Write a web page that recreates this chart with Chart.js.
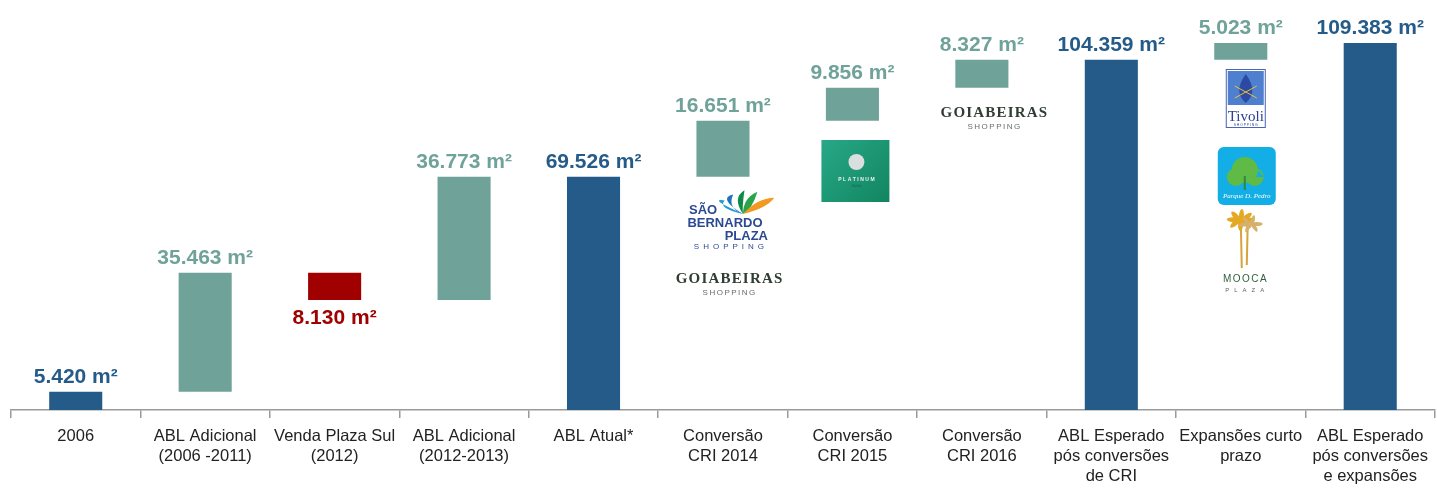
<!DOCTYPE html>
<html>
<head>
<meta charset="utf-8">
<script src="https://cdn.jsdelivr.net/npm/chart.js@4.4.0/dist/chart.umd.min.js"></script>
<style>
  body { margin: 0; background: #fff; }
  #wrap { width: 1437px; height: 489px; position: relative; }
</style>
</head>
<body>
<div id="wrap"><canvas id="chart"></canvas></div>
<script>
// categories (multi-line tick labels)
const categories = [
  ["2006"],
  ["ABL Adicional", "(2006 -2011)"],
  ["Venda Plaza Sul", "(2012)"],
  ["ABL Adicional", "(2012-2013)"],
  ["ABL Atual*"],
  ["Conversão", "CRI 2014"],
  ["Conversão", "CRI 2015"],
  ["Conversão", "CRI 2016"],
  ["ABL Esperado", "pós conversões", "de CRI"],
  ["Expansões curto", "prazo"],
  ["ABL Esperado", "pós conversões", "e expansões"]
];
// m² change per step, null = subtotal bar
const changes = [5420, 35463, -8130, 36773, null, 16651, 9856, 8327, null, 5023, null];
const valueLabels = ["5.420 m²", "35.463 m²", "8.130 m²", "36.773 m²", "69.526 m²",
  "16.651 m²", "9.856 m²", "8.327 m²", "104.359 m²", "5.023 m²", "109.383 m²"];

const COLORS = { total: "#255b88", up: "#6fa299", down: "#a00000" };

// build floating bars from running total
let running = 0;
const bars = [];
const kinds = [];
changes.forEach(function (c, i) {
  if (c === null) {
    bars.push([0, running]);
    kinds.push("total");
  } else if (i === 0) {
    running += c;
    bars.push([0, running]);
    kinds.push("total");
  } else {
    const start = running;
    running += c;
    bars.push([Math.min(start, running), Math.max(start, running)]);
    kinds.push(c < 0 ? "down" : "up");
  }
});

const valueLabelPlugin = {
  id: "valueLabels",
  afterDatasetsDraw(chart) {
    const ctx = chart.ctx;
    const meta = chart.getDatasetMeta(0);
    ctx.save();
    ctx.font = "bold 21px 'Liberation Sans', Arial, sans-serif";
    ctx.textAlign = "center";
    meta.data.forEach(function (bar, i) {
      ctx.fillStyle = COLORS[kinds[i]];
      if (kinds[i] === "down") {
        ctx.textBaseline = "top";
        ctx.fillText(valueLabels[i], bar.x, bar.base + 8);
      } else {
        ctx.textBaseline = "bottom";
        ctx.fillText(valueLabels[i], bar.x, bar.y - 4);
      }
    });
    ctx.restore();
  }
};

// simplified store logos
function spacedText(ctx, txt, x, y, spacing) {
  const chars = txt.split("");
  let w = 0;
  chars.forEach(function (ch) { w += ctx.measureText(ch).width + spacing; });
  w -= spacing;
  let cx = x - w / 2;
  ctx.textAlign = "left";
  chars.forEach(function (ch) {
    ctx.fillText(ch, cx, y);
    cx += ctx.measureText(ch).width + spacing;
  });
  ctx.textAlign = "center";
}
function goiabeiras(ctx, x, y) {
  ctx.fillStyle = "#2f3d33";
  ctx.font = "bold 15px 'Liberation Serif', 'DejaVu Serif', serif";
  spacedText(ctx, "GOIABEIRAS", x, y, 1.2);
  ctx.fillStyle = "#6b6b6b";
  ctx.font = "8px 'Liberation Sans', Arial, sans-serif";
  spacedText(ctx, "SHOPPING", x, y + 12, 1.5);
}
const logoPlugin = {
  id: "logos",
  afterDraw(chart) {
    const ctx = chart.ctx;
    const xs = chart.scales.x;
    ctx.save();
    ctx.textAlign = "center";
    ctx.textBaseline = "alphabetic";

    // São Bernardo Plaza
    let x = xs.getPixelForValue(5);
    const leaves = [["#1b9ad6", -30, 0.2], ["#1b75bc", -20, 0.55], ["#0d8a45", -5, 1.0], ["#2aa34a", 6, 0.8], ["#f29a1f", 20, 0.35]];
    leaves.forEach(function (l) {
      ctx.fillStyle = l[0];
      ctx.beginPath();
      const bx = x + 20, by = 214;
      ctx.moveTo(bx, by);
      ctx.quadraticCurveTo(bx + l[1] - 6, by - 16, bx + l[1] + 12 * Math.cos(l[2]), by - 24 * Math.sin(l[2] + 0.4));
      ctx.quadraticCurveTo(bx + l[1] + 4, by - 6, bx, by);
      ctx.fill();
    });
    ctx.fillStyle = "#2c4a93";
    ctx.font = "bold 13px 'Liberation Sans', Arial, sans-serif";
    ctx.textAlign = "left";
    ctx.fillText("SÃO", x - 34, 214);
    ctx.textAlign = "center";
    ctx.fillText("BERNARDO", x + 2, 227);
    ctx.textAlign = "right";
    ctx.fillText("PLAZA", x + 45, 240);
    ctx.textAlign = "center";
    ctx.font = "8px 'Liberation Sans', Arial, sans-serif";
    spacedText(ctx, "SHOPPING", x + 6, 249, 4);
    goiabeiras(ctx, x + 6, 283);

    // Platinum Outlet
    x = xs.getPixelForValue(6) + 3;
    const g = ctx.createLinearGradient(x - 34, 140, x + 34, 202);
    g.addColorStop(0, "#27a888");
    g.addColorStop(1, "#12855f");
    ctx.fillStyle = g;
    ctx.fillRect(x - 34, 140, 68, 62);
    ctx.fillStyle = "#d9dede";
    ctx.beginPath();
    ctx.arc(x + 1, 162, 8, 0, Math.PI * 2);
    ctx.fill();
    ctx.fillStyle = "#eef4f2";
    ctx.font = "bold 5px 'Liberation Sans', Arial, sans-serif";
    spacedText(ctx, "PLATINUM", x + 1, 181, 1.5);
    ctx.fillStyle = "#1b5e58";
    ctx.font = "italic 4px serif";
    ctx.fillText("Outlet", x + 1, 187);

    // Goiabeiras (2016)
    x = xs.getPixelForValue(7);
    goiabeiras(ctx, x + 12, 117);

    // Tivoli
    x = xs.getPixelForValue(9) + 6;
    ctx.fillStyle = "#ffffff";
    ctx.fillRect(x - 21, 69, 40, 59);
    ctx.strokeStyle = "#4a63b5";
    ctx.lineWidth = 1;
    ctx.strokeRect(x - 20.5, 69.5, 39, 58);
    ctx.fillStyle = "#4f7fcf";
    ctx.fillRect(x - 19, 71, 36, 34);
    ctx.fillStyle = "#2c4aa3";
    ctx.beginPath();
    ctx.moveTo(x - 1, 74);
    ctx.quadraticCurveTo(x + 12, 92, x - 1, 103);
    ctx.quadraticCurveTo(x - 14, 92, x - 1, 74);
    ctx.fill();
    ctx.strokeStyle = "#e8c23a";
    ctx.beginPath();
    ctx.moveTo(x - 12, 86); ctx.lineTo(x + 10, 98);
    ctx.moveTo(x + 10, 86); ctx.lineTo(x - 12, 98);
    ctx.stroke();
    ctx.fillStyle = "#2a3f96";
    ctx.font = "15px 'Liberation Serif', serif";
    ctx.fillText("Tivoli", x - 1, 121);
    ctx.font = "3.5px 'Liberation Sans', Arial, sans-serif";
    spacedText(ctx, "SHOPPING", x - 1, 126, 0.8);

    // Parque D. Pedro
    x = xs.getPixelForValue(9) + 3;
    ctx.fillStyle = "#12aee5";
    ctx.beginPath();
    ctx.roundRect(x - 26, 147, 58, 58, 6);
    ctx.fill();
    ctx.fillStyle = "#5fbb46";
    ctx.beginPath();
    ctx.arc(x + 1, 170, 13, 0, Math.PI * 2);
    ctx.arc(x - 8, 177, 9, 0, Math.PI * 2);
    ctx.arc(x + 11, 177, 9, 0, Math.PI * 2);
    ctx.fill();
    ctx.fillStyle = "#2e8a3a";
    ctx.fillRect(x, 176, 2, 14);
    ctx.fillStyle = "#ffffff";
    ctx.font = "italic 7px 'Liberation Serif', serif";
    ctx.fillText("Parque D. Pedro", x + 3, 198);

    // Mooca Plaza
    x = xs.getPixelForValue(9) + 2;
    ctx.strokeStyle = "#d7a43a";
    ctx.lineWidth = 2;
    ctx.beginPath();
    ctx.moveTo(x - 2, 220); ctx.lineTo(x - 1, 268);
    ctx.moveTo(x + 5, 222); ctx.lineTo(x + 4, 265);
    ctx.stroke();
    ctx.fillStyle = "#e5a823";
    for (let a = 0; a < 8; a++) {
      ctx.beginPath();
      ctx.ellipse(x - 2 + Math.cos(a * 0.8) * 7, 220 + Math.sin(a * 0.8) * 4, 7, 2.5, a * 0.8, 0, Math.PI * 2);
      ctx.fill();
    }
    ctx.fillStyle = "#d7b06a";
    for (let a = 0; a < 6; a++) {
      ctx.beginPath();
      ctx.ellipse(x + 8 + Math.cos(a) * 6, 224 + Math.sin(a) * 3, 6, 2, a, 0, Math.PI * 2);
      ctx.fill();
    }
    ctx.fillStyle = "#2f5f3f";
    ctx.font = "10px 'Liberation Sans', Arial, sans-serif";
    spacedText(ctx, "MOOCA", x + 2, 282, 1.5);
    ctx.fillStyle = "#666";
    ctx.font = "6px 'Liberation Sans', Arial, sans-serif";
    spacedText(ctx, "PLAZA", x + 2, 292, 5);

    ctx.restore();
  }
};

new Chart(document.getElementById("chart"), {
  type: "bar",
  data: {
    labels: categories,
    datasets: [{
      data: bars,
      backgroundColor: kinds.map(function (k) { return COLORS[k]; }),
      barPercentage: 0.41,
      categoryPercentage: 1.0,
      borderSkipped: false
    }]
  },
  options: {
    responsive: true,
    maintainAspectRatio: false,
    animation: false,
    layout: { padding: { top: 10, left: 11, right: 0, bottom: 0 } },
    plugins: {
      legend: { display: false },
      tooltip: { enabled: false }
    },
    scales: {
      x: {
        offset: true,
        afterFit(scale) { scale.height = 79; },
        grid: {
          offset: true,
          drawOnChartArea: false,
          drawTicks: true,
          tickLength: 8,
          color: "#9a9a9a",
          lineWidth: 1.5
        },
        border: { color: "#9a9a9a", width: 1.5 },
        ticks: {
          color: "#222",
          font: { family: "'Liberation Sans', Arial, sans-serif", size: 16.5, lineHeight: 1.2 },
          padding: 9,
          maxRotation: 0,
          autoSkip: false
        }
      },
      y: {
        display: false,
        min: 0,
        max: 119200
      }
    }
  },
  plugins: [valueLabelPlugin, logoPlugin]
});
</script>
</body>
</html>
